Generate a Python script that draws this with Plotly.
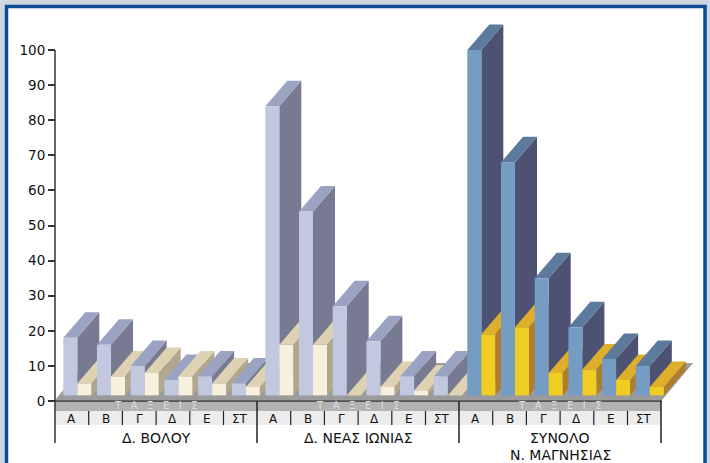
import plotly.graph_objects as go

# ---- data ----
group_names = [["Δ. ΒΟΛΟΥ"], ["Δ. ΝΕΑΣ ΙΩΝΙΑΣ"], ["ΣΥΝΟΛΟ", "Ν. ΜΑΓΝΗΣΙΑΣ"]]
classes = ["Α", "Β", "Γ", "Δ", "Ε", "ΣΤ"]
band_label = "Τ   Α   Ξ   Ε   Ι   Σ"
y_ticks = [0, 10, 20, 30, 40, 50, 60, 70, 80, 90, 100]

volos_tall = [18, 16, 10, 6, 7, 5]
volos_short = [5, 7, 8, 7, 5, 4]
ionia_tall = [84, 54, 27, 17, 7, 7]
ionia_short = [16, 16, 0, 4, 3, 0]
total_tall = [100, 68, 35, 21, 12, 10]
total_short = [19, 21, 8, 9, 6, 4]

# ---- styling ----
W, H = 710, 463
Y_ZERO_PX, PX_PER_UNIT = 401.0, 3.51
BASE = 1.6          # front faces stand on the floor, slightly above the axis zero
BAR_W = 14.0
SLOT = 33.7
GROUP_STEP = 202.0
FIRST_BAR = 63.3
DEPTH_X = 22.0
DEPTH_Y = 25.5 / PX_PER_UNIT
AXIS_X = 55.0


def val(px):
    """Pixel row to axis value, used only for furniture around the chart."""
    return (Y_ZERO_PX - px) / PX_PER_UNIT


LIGHT = dict(front="#c1c8e0", top="#9ba3c3", side="#787a92")
CREAM = dict(front="#f6f0dc", top="#dfd2b3", side="#b1a78c")
STEEL = dict(front="#759cc3", top="#5c7a9e", side="#4d5272")
GOLD = dict(front="#f0cd22", top="#dfae2a", side="#ae7e2e")

series = [
    (volos_tall, volos_short, LIGHT, CREAM),
    (ionia_tall, ionia_short, LIGHT, CREAM),
    (total_tall, total_short, STEEL, GOLD),
]

fig = go.Figure()


def face(xs, ys, color):
    fig.add_trace(go.Scatter(x=xs, y=ys, mode="lines", fill="toself", fillcolor=color,
                             line=dict(width=0, color=color), hoverinfo="skip",
                             showlegend=False, xaxis="x", yaxis="y"))


# floor
floor_back = val(363)
floor_front = val(400)
face([AXIS_X, 662, 693, AXIS_X + 31, AXIS_X],
     [floor_front, floor_front, floor_back, floor_back, floor_front], "#9b9b9b")

# depth faces, painted left to right
front_x, front_h, front_c = [], [], []
for g, (tall, short, c_tall, c_short) in enumerate(series):
    for i in range(len(classes)):
        left = FIRST_BAR + g * GROUP_STEP + i * SLOT
        for k, (v, col) in enumerate(((tall[i], c_tall), (short[i], c_short))):
            x0 = left + k * BAR_W
            x1 = x0 + BAR_W
            t = max(v, BASE)
            face([x1, x1 + DEPTH_X, x1 + DEPTH_X, x1, x1],
                 [BASE, BASE + DEPTH_Y, t + DEPTH_Y, t, BASE], col["side"])
            face([x0, x1, x1 + DEPTH_X, x0 + DEPTH_X, x0],
                 [t, t, t + DEPTH_Y, t + DEPTH_Y, t], col["top"])
            front_x.append(x0 + BAR_W / 2)
            front_h.append(t - BASE)
            front_c.append(col["front"])

# front faces as real bars, on an overlay subplot so they sit above the depth faces
fig.add_trace(go.Bar(x=front_x, y=front_h, base=BASE, width=BAR_W,
                     marker=dict(color=front_c, line=dict(width=0)),
                     hoverinfo="skip", showlegend=False, xaxis="x2", yaxis="y2"))

# frame and strips
shapes = [
    dict(type="rect", xref="x", yref="y", x0=6.5, x1=705, y0=val(480), y1=val(6.5),
         fillcolor="#ffffff", line=dict(color="#0d4a97", width=3.5), layer="below"),
    dict(type="rect", xref="x", yref="y", x0=AXIS_X, x1=661, y0=val(411), y1=val(401),
         fillcolor="#b2b2b2", line=dict(width=0), layer="below"),
    dict(type="rect", xref="x", yref="y", x0=AXIS_X, x1=661, y0=val(425), y1=val(411),
         fillcolor="#ececec", line=dict(width=0), layer="below"),
    dict(type="line", xref="x", yref="y", x0=AXIS_X, x1=662, y0=0, y1=0,
         line=dict(color="#333333", width=1.5)),
    dict(type="line", xref="x", yref="y", x0=AXIS_X, x1=AXIS_X, y0=val(443), y1=100,
         line=dict(color="#333333", width=1.5)),
]
annotations = []
FONT = "DejaVu Sans"
for g, names in enumerate(group_names):
    gx = AXIS_X + g * GROUP_STEP
    shapes.append(dict(type="line", xref="x", yref="y", x0=gx + GROUP_STEP, x1=gx + GROUP_STEP,
                       y0=val(443), y1=val(401), line=dict(color="#222222", width=1.5)))
    center = gx + GROUP_STEP / 2
    annotations.append(dict(x=center, y=val(405), text=band_label, showarrow=False, xref="x", yref="y",
                            font=dict(family=FONT, size=10, color="#dcdcdc")))
    for n, name in enumerate(names):
        annotations.append(dict(x=center, y=val(438 + n * 16.5), text=name, showarrow=False,
                                xref="x", yref="y",
                                font=dict(family=FONT, size=14, color="#111111")))
    for i, c in enumerate(classes):
        annotations.append(dict(x=gx + (i + 0.5) * SLOT, y=val(419), text=c, showarrow=False, xref="x", yref="y",
                                font=dict(family=FONT, size=12, color="#111111")))
        if i:
            sx = gx + i * SLOT
            shapes.append(dict(type="line", xref="x", yref="y", x0=sx, x1=sx, y0=val(425), y1=val(411),
                               line=dict(color="#222222", width=1.2)))

x_range = [0, W]
y_range = [val(H), val(0)]
hidden = dict(visible=False, range=x_range, fixedrange=True)
fig.update_layout(
    width=W, height=H, margin=dict(l=0, r=0, t=0, b=0), autosize=False,
    paper_bgcolor="#cdd7df", plot_bgcolor="#cdd7df", barmode="overlay", showlegend=False,
    shapes=shapes, annotations=annotations,
    xaxis=dict(hidden),
    yaxis=dict(range=y_range, tickmode="array", tickvals=y_ticks, ticks="outside", ticklen=7,
               tickwidth=1.5, tickcolor="#333333", showgrid=False, zeroline=False, showline=False,
               anchor="free", position=AXIS_X / W, fixedrange=True, ticklabelposition="outside",
               tickfont=dict(family=FONT, size=13.5, color="#111111")),
    xaxis2=dict(hidden, overlaying="x"),
    yaxis2=dict(visible=False, range=y_range, overlaying="y", fixedrange=True),
)

fig.write_html("out.html", config=dict(displayModeBar=False),
               post_script="document.body.style.margin='0';document.body.style.overflow='hidden';")
